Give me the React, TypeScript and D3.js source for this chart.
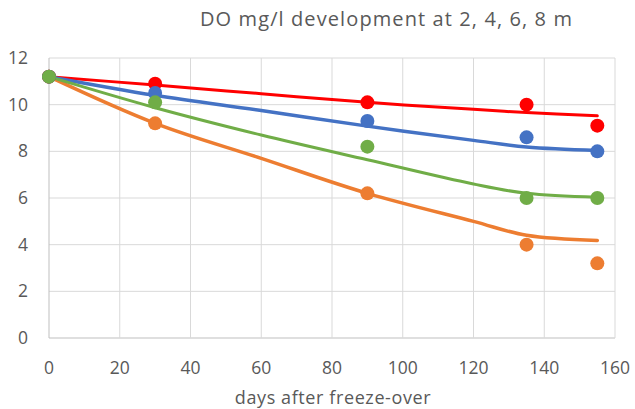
import React from 'react'
import * as d3 from 'd3'

const WIDTH = 635
const HEIGHT = 409

// measured days after freeze-over
const days = [0, 30, 90, 135, 155]
const red = [11.2, 10.9, 10.1, 10.0, 9.1]
const blue = [11.2, 10.5, 9.3, 8.6, 8.0]
const green = [11.2, 10.1, 8.2, 6.0, 6.0]
const orange = [11.2, 9.2, 6.2, 4.0, 3.2]

// trend lines
const trendDays = [0, 30, 60, 90, 120, 135, 155]
const redTrend = [11.2, 10.84, 10.47, 10.1, 9.8, 9.66, 9.52]
const blueTrend = [11.2, 10.4, 9.75, 9.08, 8.47, 8.19, 8.04]
const greenTrend = [11.2, 9.87, 8.7, 7.64, 6.6, 6.2, 6.03]
const orangeTrend = [11.2, 9.2, 7.7, 6.2, 5.0, 4.4, 4.18]

const xTicks = [0, 20, 40, 60, 80, 100, 120, 140, 160]
const yTicks = [0, 2, 4, 6, 8, 10, 12]

// drawing order: orange first, green last
const series = [
  { name: '8 m', color: '#ED7D31', values: orange, trend: orangeTrend, width: 3.5 },
  { name: '2 m', color: '#FF0000', values: red, trend: redTrend, width: 3 },
  { name: '4 m', color: '#4472C4', values: blue, trend: blueTrend, width: 3.5 },
  { name: '6 m', color: '#70AD47', values: green, trend: greenTrend, width: 3 },
]

const FONT = '"Open Sans", sans-serif'
const TEXT = '#595959'

export default function App() {
  const margin = { top: 58, right: 20, bottom: 71, left: 49 }
  const x = d3.scaleLinear().domain([0, 160]).range([margin.left, WIDTH - margin.right])
  const y = d3.scaleLinear().domain([0, 12]).range([HEIGHT - margin.bottom, margin.top])

  const line = d3
    .line<[number, number]>()
    .x((d) => x(d[0]))
    .y((d) => y(d[1]))
    .curve(d3.curveCatmullRom.alpha(0.5))

  return (
    <div style={{ position: 'absolute', left: 0, top: 0 }}>
      <svg width={WIDTH} height={HEIGHT} style={{ display: 'block', background: '#fff' }}>
        <text x={200} y={26} fontFamily={FONT} fontSize={20} letterSpacing={1.1} fill={TEXT}>
          DO mg/l development at 2, 4, 6, 8 m
        </text>

        {yTicks.map((t) => (
          <g key={'y' + t}>
            <line x1={x(0)} x2={x(160)} y1={y(t)} y2={y(t)} stroke={t === 0 ? '#bfbfbf' : '#d9d9d9'} strokeWidth={1} />
            <text x={28} y={y(t) + 6} textAnchor="end" fontFamily={FONT} fontSize={17.5} fill={TEXT}>
              {t}
            </text>
          </g>
        ))}
        {xTicks.map((t) => (
          <g key={'x' + t}>
            <line x1={x(t)} x2={x(t)} y1={y(0)} y2={y(12)} stroke={t === 0 ? '#bfbfbf' : '#d9d9d9'} strokeWidth={1} />
            <text x={x(t)} y={374} textAnchor="middle" fontFamily={FONT} fontSize={17.5} fill={TEXT}>
              {t}
            </text>
          </g>
        ))}
        <text x={x(80) + 1} y={404} textAnchor="middle" fontFamily={FONT} fontSize={18} letterSpacing={0.6} fill={TEXT}>
          days after freeze-over
        </text>

        {series.map((s) => (
          <path
            key={'t' + s.name}
            d={line(trendDays.map((d, i) => [d, s.trend[i]] as [number, number])) || ''}
            fill="none"
            stroke={s.color}
            strokeWidth={s.width}
            strokeLinecap="round"
          />
        ))}
        {series.map((s) => (
          <g key={'p' + s.name}>
            {days.map((d, i) => (
              <circle key={d} cx={x(d)} cy={y(s.values[i])} r={7} fill={s.color} />
            ))}
          </g>
        ))}
      </svg>
    </div>
  )
}
